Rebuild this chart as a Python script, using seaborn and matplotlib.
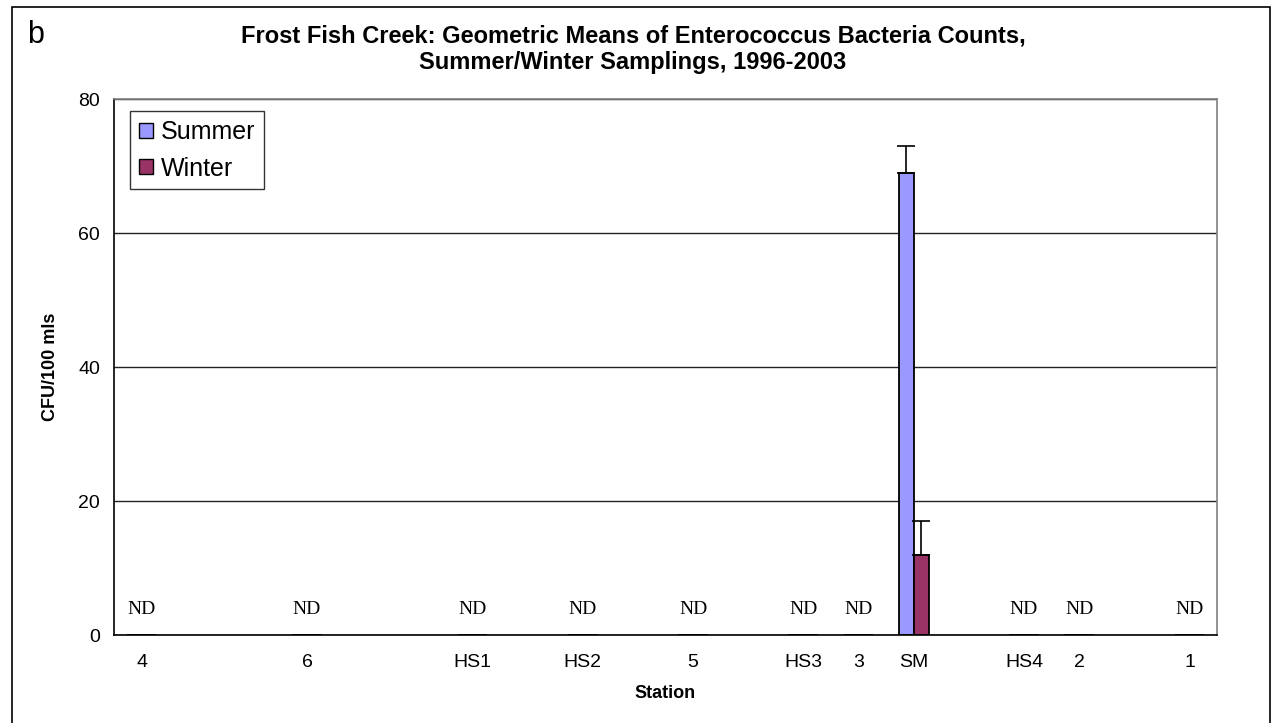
import matplotlib.pyplot as plt
import pandas as pd
import seaborn as sns
from matplotlib.patches import Patch, Rectangle

# Station slots along the creek (blank slots are empty positions on the axis)
STATIONS = ["4", "", "", "6", "", "", "HS1", "", "HS2", "", "5", "",
            "HS3", "3", "SM", "", "HS4", "2", "", "1"]
SEASONS = ["Summer", "Winter"]

# Geometric means (CFU/100 mls); None = no station at this slot, 0 = ND
SUMMER = [0, None, None, 0, None, None, 0, None, 0, None, 0, None,
          0, 0, 69, None, 0, 0, None, 0]
WINTER = [0, None, None, 0, None, None, 0, None, 0, None, 0, None,
          0, 0, 12, None, 0, 0, None, 0]

# upper error bars
SUMMER_ERR = {"SM": 4}
WINTER_ERR = {"SM": 5}

ND_STATIONS = ["4", "6", "HS1", "HS2", "5", "HS3", "3", "HS4", "2", "1"]

COLORS = {"Summer": "#9999FF", "Winter": "#993366"}

sns.set_style("white")
plt.rcParams["font.family"] = ["Liberation Sans", "DejaVu Sans"]
plt.rcParams.update({"text.color": "black", "axes.labelcolor": "black",
                     "xtick.color": "black", "ytick.color": "black"})

slots = [str(i) for i in range(len(STATIONS))]
rows = []
for i, slot in enumerate(slots):
    rows.append({"slot": slot, "season": "Summer", "value": SUMMER[i]})
    rows.append({"slot": slot, "season": "Winter", "value": WINTER[i]})
df = pd.DataFrame(rows).dropna()

fig = plt.figure(figsize=(12.76, 7.23), dpi=100)
ax = fig.add_axes([0.0893, 0.1217, 0.8645, 0.7413])

sns.barplot(
    data=df, x="slot", y="value", hue="season", order=slots,
    hue_order=SEASONS, palette=COLORS, width=0.54, errorbar=None,
    saturation=1, edgecolor="black", linewidth=1.3, legend=False, ax=ax,
)

# error bars on the SM station
for k, (season, errs) in enumerate([("Summer", SUMMER_ERR), ("Winter", WINTER_ERR)]):
    vals = SUMMER if season == "Summer" else WINTER
    for name, err in errs.items():
        idx = STATIONS.index(name)
        for bar in ax.containers[k]:
            xc = bar.get_x() + bar.get_width() / 2
            if abs(xc - idx) < 0.5:
                ax.errorbar(xc, vals[idx], yerr=[[0], [err]], fmt="none",
                            ecolor="black", elinewidth=1.2, capsize=6.5,
                            capthick=1.2)

# ND labels
for name in ND_STATIONS:
    ax.text(STATIONS.index(name), 3.8, "ND", ha="center", va="center",
            fontsize=14, color="black",
            family=["Liberation Serif", "DejaVu Serif"])

ax.set_xlim(-0.5, len(STATIONS) - 0.5)
ax.set_ylim(0, 80)
ax.set_yticks([0, 20, 40, 60, 80])
ax.yaxis.grid(True, color="#222222", linewidth=1.0)
ax.set_axisbelow(True)

# ticks between stations, labels at station centers
ax.set_xticks([i - 0.5 for i in range(len(STATIONS) + 1)])
ax.set_xticklabels([])
ax.set_xticks(range(len(STATIONS)), minor=True)
ax.set_xticklabels(STATIONS, minor=True, fontsize=14)
ax.tick_params(axis="x", which="major", length=6, width=1, color="black", direction="out")
ax.tick_params(axis="x", which="minor", length=0, pad=14)
ax.tick_params(axis="y", length=6, width=1, color="black", labelsize=14, pad=4)

for side in ["left", "bottom"]:
    ax.spines[side].set_color("black")
    ax.spines[side].set_linewidth(1.2)
for side in ["top", "right"]:
    ax.spines[side].set_color("#808080")
    ax.spines[side].set_linewidth(1.2)

ax.set_xlabel("Station", fontsize=13, fontweight="bold", labelpad=10)
ax.set_ylabel("CFU/100 mls", fontsize=13, fontweight="bold", labelpad=14)

handles = [Patch(facecolor=COLORS[s], edgecolor="black", linewidth=1.0, label=s)
           for s in SEASONS]
leg = ax.legend(handles=handles, loc="upper left", bbox_to_anchor=(0.015, 0.977),
                borderaxespad=0, fontsize=18, frameon=True, fancybox=False,
                handlelength=0.55, handleheight=0.55, handletextpad=0.3,
                labelspacing=0.5, borderpad=0.35)
leg.get_frame().set_edgecolor("black")
leg.get_frame().set_linewidth(1.0)

fig.text(0.496, 0.932, "Frost Fish Creek: Geometric Means of Enterococcus Bacteria Counts,\n"
         "Summer/Winter Samplings, 1996-2003", ha="center", va="center",
         fontsize=17, fontweight="bold", linespacing=1.2)
fig.text(0.021, 0.951, "b", fontsize=22, va="center", ha="left")

# outer frame of the figure
fig.patches.append(Rectangle((12 / 1276, -0.01), 1258 / 1276, 1 - 7 / 723 + 0.01,
                             transform=fig.transFigure, fill=False,
                             edgecolor="black", linewidth=1.2))

fig.savefig("out.png", dpi=100)
